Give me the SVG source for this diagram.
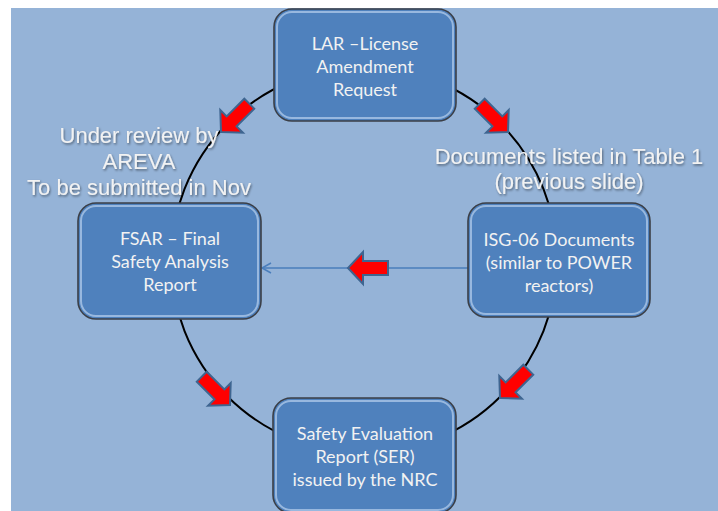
<svg xmlns="http://www.w3.org/2000/svg" width="718" height="511" viewBox="0 0 718 511">
<defs>
<style>
.box{fill:#4F81BD;stroke:#3B3F47;stroke-width:1.6}
.bevel{fill:none;stroke:#C9DDF5;stroke-opacity:0.6;stroke-width:2}
.bt{font-family:Lato,"Open Sans",sans-serif;font-size:18px;fill:#F2F2F2;text-anchor:middle}
.ot{font-family:"Liberation Sans",Arial,sans-serif;font-size:22px;fill:#F2F2F2;text-anchor:middle;filter:url(#sh)}
.ra{fill:#FF0000;stroke:#3E6590;stroke-width:2;stroke-linejoin:miter}
</style>
<filter id="sh" x="-10%" y="-30%" width="120%" height="160%">
<feDropShadow dx="1" dy="1.5" stdDeviation="1" flood-color="#000" flood-opacity="0.45"/>
</filter>
<marker id="open" markerWidth="12" markerHeight="12" refX="10" refY="6" orient="auto" markerUnits="userSpaceOnUse">
<path d="M1,1 L10,6 L1,11" fill="none" stroke="#4A7EBB" stroke-width="1.5"/>
</marker>
<polygon id="arr" points="0,0 -15,-16 -15,-7 -40,-7 -40,7 -15,7 -15,16"/>
</defs>
<rect x="0" y="0" width="718" height="511" fill="#FFFFFF"/>
<rect x="11" y="8" width="707" height="503" fill="#95B3D7"/>
<g id="connectors">
<circle cx="364" cy="260" r="193" fill="none" stroke="#000" stroke-width="2"/>
<line x1="468" y1="268" x2="262" y2="268" stroke="#4A7EBB" stroke-width="1.5" marker-end="url(#open)"/>
<use href="#arr" class="ra" transform="translate(221,132) rotate(135)"/>
<use href="#arr" class="ra" transform="translate(508,132) rotate(45)"/>
<use href="#arr" class="ra" transform="translate(348,268) rotate(180)"/>
<use href="#arr" class="ra" transform="translate(230,405) rotate(45)"/>
<use href="#arr" class="ra" transform="translate(500,398) rotate(135)"/>
</g>
<g id="lar">
<rect class="box" x="274" y="9" width="182" height="112" rx="18"/>
<rect class="bevel" x="277" y="12" width="176" height="106" rx="15"/>
<text class="bt"><tspan x="365" y="50">LAR –License</tspan><tspan x="365" y="73">Amendment</tspan><tspan x="365" y="96">Request</tspan></text>
</g>
<g id="isg">
<rect class="box" x="468" y="203" width="182" height="114" rx="18"/>
<rect class="bevel" x="471" y="206" width="176" height="108" rx="15"/>
<text class="bt"><tspan x="559" y="246">ISG-06 Documents</tspan><tspan x="559" y="269">(similar to POWER</tspan><tspan x="559" y="292">reactors)</tspan></text>
</g>
<g id="fsar">
<rect class="box" x="78" y="203" width="183" height="116" rx="18"/>
<rect class="bevel" x="81" y="206" width="177" height="110" rx="15"/>
<text class="bt"><tspan x="170" y="245">FSAR – Final</tspan><tspan x="170" y="268">Safety Analysis</tspan><tspan x="170" y="291">Report</tspan></text>
</g>
<g id="ser">
<rect class="box" x="273" y="398" width="183" height="115" rx="18"/>
<rect class="bevel" x="276" y="401" width="177" height="109" rx="15"/>
<text class="bt"><tspan x="365" y="440">Safety Evaluation</tspan><tspan x="365" y="463">Report (SER)</tspan><tspan x="365" y="486">issued by the NRC</tspan></text>
</g>
<g id="note-areva">
<text class="ot"><tspan x="139" y="143">Under review by</tspan><tspan x="139" y="169">AREVA</tspan><tspan x="139" y="195">To be submitted in Nov</tspan></text>
</g>
<g id="note-docs">
<text class="ot"><tspan x="569" y="164">Documents listed in Table 1</tspan><tspan x="569" y="189">(previous slide)</tspan></text>
</g>
</svg>
